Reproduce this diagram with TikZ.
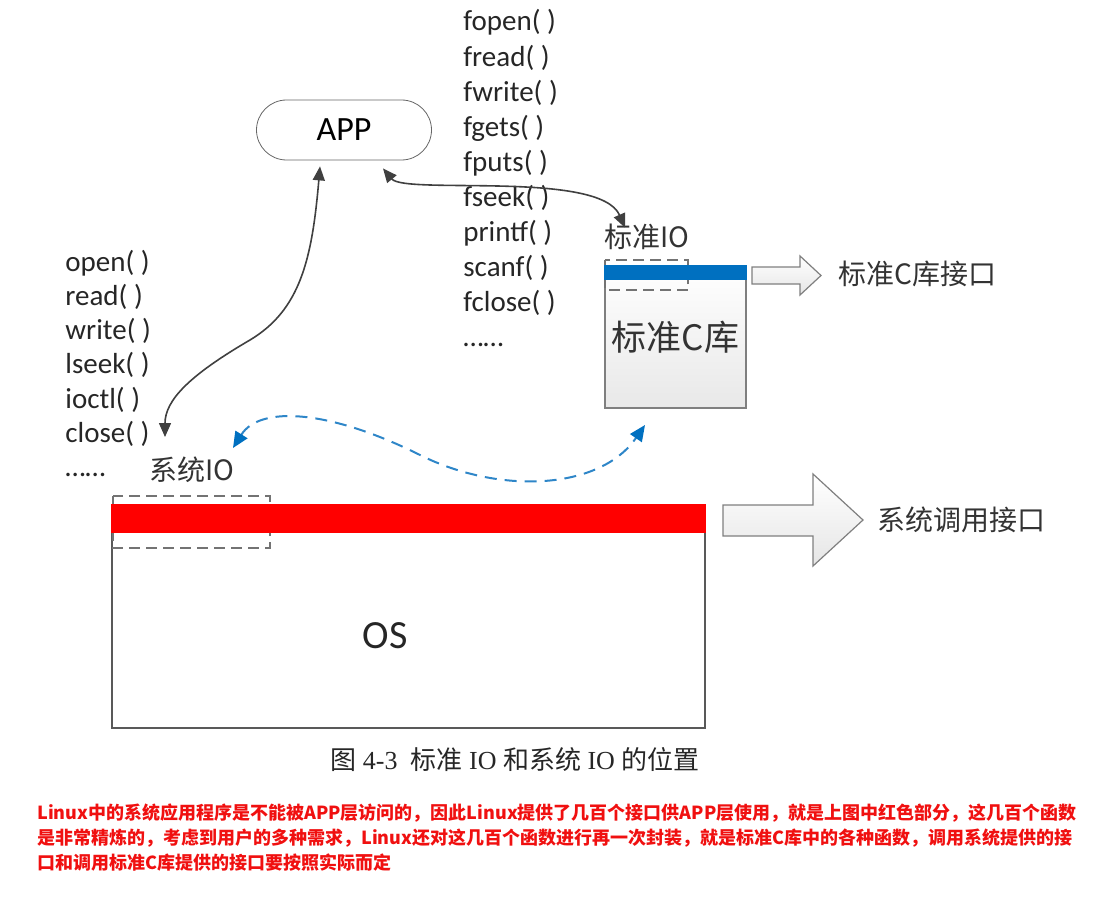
\documentclass[tikz,border=0pt]{standalone}
\usepackage{fontspec}
\usepackage{xcolor}
\usepackage{tikz}
\usetikzlibrary{positioning,arrows.meta,calc}
\setmainfont{Carlito}
\newfontfamily\cjk{Noto Sans CJK SC}
\newfontfamily\capserif{Liberation Serif}
\definecolor{lineg}{HTML}{404040}
\definecolor{boxg}{HTML}{7F7F7F}
\definecolor{sysred}{HTML}{FF0000}
\definecolor{libblue}{HTML}{0070C0}
\definecolor{dashblue}{HTML}{2E86C8}
\definecolor{notered}{HTML}{F01010}

\begin{document}
\begin{tikzpicture}[x=0.5pt,y=-0.5pt,
  func/.style={anchor=base west,inner sep=0pt,font=\fontsize{14.5}{17}\selectfont,text=black!85},
  cjklabel/.style={inner sep=0pt,font=\cjk\fontsize{14}{16}\selectfont,text=black!80},
  pill/.style={draw=black!60,rounded corners=15pt,minimum width=87.5pt,minimum height=30pt,font=\fontsize{17}{19}\selectfont},
  iobox/.style={draw=black!55,dashed,dash pattern=on 5.5pt off 3pt,line width=0.8pt},
  hollow/.style={draw=boxg,line width=0.6pt,top color=white,bottom color=black!10},
  link/.style={lineg,line width=0.8pt,{Triangle[length=7pt,width=6pt]}-{Triangle[length=7pt,width=6pt]}},
  bluelink/.style={dashblue,line width=1pt,dash pattern=on 6pt off 4pt,
    {Triangle[length=8pt,width=7pt,color=libblue]}-{Triangle[length=8pt,width=7pt,color=libblue]}},
  note/.style={anchor=base west,inner sep=0pt,text=notered,font=\cjk\bfseries\fontsize{9}{11}\selectfont}]
  \useasboundingbox (0,0) rectangle (1099,920);

  \node[pill] (app) at (344,130) {APP};

  % standard library calls
  \foreach \fn [count=\i from 0] in {fopen( ),fread( ),fwrite( ),fgets( ),fputs( ),fseek( ),printf( ),scanf( ),fclose( ),……}
    \node[func] (f\i) at (463,31+35.1*\i) {\fn};
  % system calls
  \foreach \fn [count=\i from 0] in {open( ),read( ),write( ),lseek( ),ioctl( ),close( ),……}
    \node[func] (s\i) at (65,271+34.3*\i) {\fn};

  % standard C library
  \node[draw=boxg,line width=0.6pt,top color=white,bottom color=black!9,minimum width=70.5pt,minimum height=71pt,
        inner sep=0pt,font=\cjk\fontsize{17.5}{20}\selectfont,text=black!80] (clib) at (675.5,337) {标准C库};
  \draw[iobox] (605,260) rectangle (688,290);
  \fill[libblue] (clib.north west) rectangle ([yshift=-7.5pt]clib.north east);
  \node[cjklabel] (stdio) at (647,237) {标准IO};
  \draw[hollow] (752,267) -- (800,267) -- (800,256) -- (821,275.5) -- (800,295) -- (800,284) -- (752,284) -- cycle;
  \node[cjklabel,anchor=west] (stdif) at (838,274) {标准C库接口};

  % OS
  \node[draw=black!65,line width=0.6pt,minimum width=296.5pt,minimum height=111.5pt,inner sep=0pt] (osbox) at (408.5,616.5) {};
  \draw[iobox] (113,496) rectangle (270,548);
  \fill[sysred] (osbox.north west) rectangle ([yshift=-14.5pt]osbox.north east);
  \node[font=\fontsize{20}{22}\selectfont,text=black!85] (os) at (385,636) {OS};
  \node[cjklabel] (sysio) at (192,470) {系统IO};
  \draw[hollow] (723,505) -- (813,505) -- (813,474) -- (863,520) -- (813,566) -- (813,536) -- (723,536) -- cycle;
  \node[cjklabel,anchor=west] (sysif) at (877,520) {系统调用接口};

  % connectors
  \coordinate (sysin) at (165,437);
  \coordinate (blueA) at (233,448);
  \coordinate (blueB) at (645,425);
  \draw[link] ([xshift=-12pt,yshift=-3pt]app.south) .. controls (312,260) and (300,310) .. (250,340)
     .. controls (190,375) and (165,400) .. (sysin);
  \draw[link] ([xshift=19.5pt,yshift=-4pt]app.south) .. controls (405,195) and (600,170) .. ([xshift=-11pt,yshift=-2pt]stdio.north);
  \draw[bluelink] (blueA) .. controls (260,405) and (330,410) .. (420,455)
     .. controls (500,495) and (600,490) .. (blueB);

  % caption and note
  \node[font=\fontsize{13}{15}\selectfont,text=black!85] (caption) at (515,760)
    {\cjk 图{\capserif\ 4-3\ \ }标准{\capserif\ IO\ }和系统{\capserif\ IO\ }的位置};
  \node[note] (n1) at (37,819) {Linux中的系统应用程序是不能被APP层访问的，因此Linux提供了几百个接口供APP层使用，就是上图中红色部分，这几百个函数};
  \node[note] (n2) at (37,844) {是非常精炼的，考虑到用户的多种需求，Linux还对这几百个函数进行再一次封装，就是标准C库中的各种函数，调用系统提供的接};
  \node[note] (n3) at (37,869) {口和调用标准C库提供的接口要按照实际而定};
\end{tikzpicture}
\end{document}
